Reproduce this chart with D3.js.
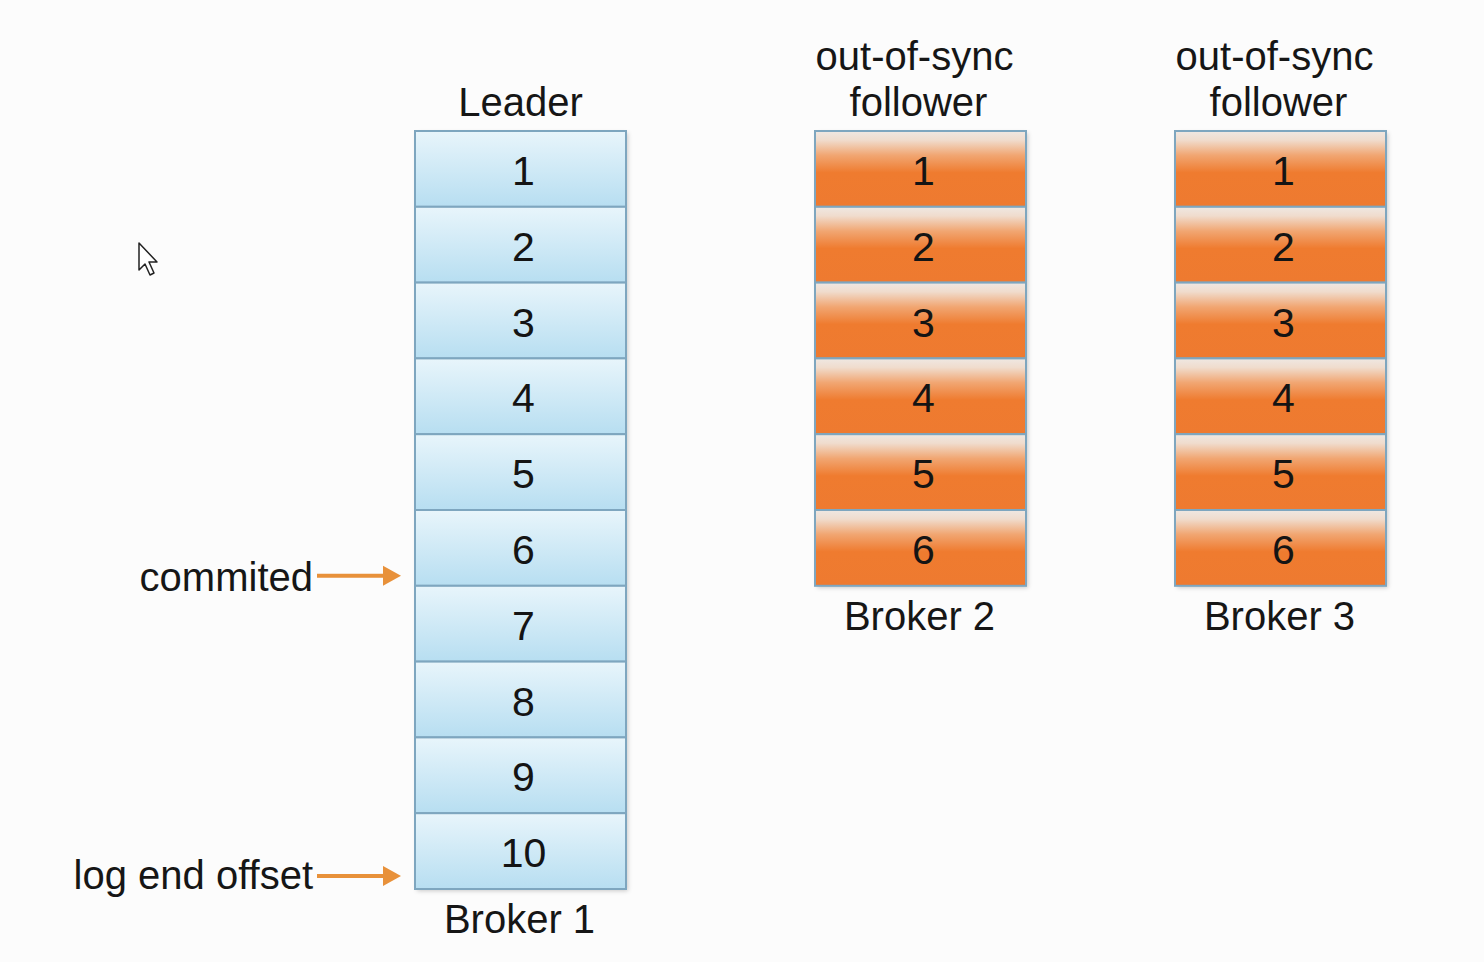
<!DOCTYPE html>
<html>
<head>
<meta charset="utf-8">
<script src="https://cdn.jsdelivr.net/npm/d3@7"></script>
<style>
  html, body { margin: 0; padding: 0; background: #fcfcfc; }
  svg { display: block; }
</style>
</head>
<body>
<script>
// offsets held by each broker's log
const brokers = ['Broker 1', 'Broker 2', 'Broker 3'];
const roles = [['Leader'], ['out-of-sync', 'follower'], ['out-of-sync', 'follower']];
const leaderOffsets = [1, 2, 3, 4, 5, 6, 7, 8, 9, 10];
const broker2Offsets = [1, 2, 3, 4, 5, 6];
const broker3Offsets = [1, 2, 3, 4, 5, 6];
const markers = [{label: 'commited', offset: 6}, {label: 'log end offset', offset: 10}];

const width = 1484, height = 962;
const font = '"Liberation Sans", Arial, Helvetica, sans-serif';

const svg = d3.select('body')
  .append('svg')
    .attr('width', width)
    .attr('height', height);

svg.append('rect')
  .attr('width', width)
  .attr('height', height)
  .attr('fill', '#fcfcfc');

// gradients
const defs = svg.append('defs');
const blue = defs.append('linearGradient').attr('id', 'blue')
  .attr('x1', 0).attr('y1', 0).attr('x2', 0).attr('y2', 1);
blue.append('stop').attr('offset', '0%').attr('stop-color', '#e8f5fb');
blue.append('stop').attr('offset', '100%').attr('stop-color', '#b7def1');

const orange = defs.append('linearGradient').attr('id', 'orange')
  .attr('x1', 0).attr('y1', 0).attr('x2', 0).attr('y2', 1);
orange.append('stop').attr('offset', '0%').attr('stop-color', '#efe8e3');
orange.append('stop').attr('offset', '12%').attr('stop-color', '#f0dccd');
orange.append('stop').attr('offset', '32%').attr('stop-color', '#f1a672');
orange.append('stop').attr('offset', '55%').attr('stop-color', '#ef7b2f');
orange.append('stop').attr('offset', '100%').attr('stop-color', '#ee7a30');

const shadow = defs.append('filter').attr('id', 'shadow')
  .attr('x', '-10%').attr('y', '-10%').attr('width', '130%').attr('height', '130%');
shadow.append('feDropShadow')
  .attr('dx', 2).attr('dy', 2).attr('stdDeviation', 2)
  .attr('flood-color', '#000').attr('flood-opacity', 0.2);

// scales
const x = d3.scaleOrdinal().domain(brokers).range([415, 815, 1175]);
const colW = 211;
const y = d3.scaleBand().domain(leaderOffsets).range([131, 889]).padding(0);

const logs = [
  {broker: brokers[0], offsets: leaderOffsets, fill: 'url(#blue)', role: roles[0]},
  {broker: brokers[1], offsets: broker2Offsets, fill: 'url(#orange)', role: roles[1]},
  {broker: brokers[2], offsets: broker3Offsets, fill: 'url(#orange)', role: roles[2]}
];

const cols = svg.selectAll('g.log')
  .data(logs)
  .join('g')
    .attr('class', 'log')
    .attr('transform', d => `translate(${x(d.broker)},0)`);

// column body with shadow
cols.append('rect')
  .attr('x', 0)
  .attr('y', d => y(d.offsets[0]))
  .attr('width', colW)
  .attr('height', d => y(d.offsets[d.offsets.length - 1]) + y.bandwidth() - y(d.offsets[0]))
  .attr('fill', '#fff')
  .attr('filter', 'url(#shadow)');

const cells = cols.selectAll('g.cell')
  .data(d => d.offsets.map(o => ({o, fill: d.fill})))
  .join('g')
    .attr('class', 'cell');

cells.append('rect')
  .attr('x', 0)
  .attr('y', d => y(d.o))
  .attr('width', colW)
  .attr('height', y.bandwidth())
  .attr('fill', d => d.fill)
  .attr('stroke', '#7ea6bf')
  .attr('stroke-width', 2);

cells.append('text')
  .attr('x', colW / 2 + 3)
  .attr('y', d => y(d.o) + y.bandwidth() / 2 + 16)
  .attr('text-anchor', 'middle')
  .attr('font-family', font)
  .attr('font-size', 41)
  .attr('fill', '#141414')
  .text(d => d.o);

// role labels above, broker name below
cols.each(function(d, idx) {
  const g = d3.select(this);
  const lines = d.role;
  const top = y(d.offsets[0]);
  lines.forEach((t, i) => {
    g.append('text')
      .attr('x', colW / 2 + (idx === 0 ? 0 : (i === 0 ? -6 : -2)))
      .attr('y', top - 15 - (lines.length - 1 - i) * 46)
      .attr('text-anchor', 'middle')
      .attr('font-family', font)
      .attr('font-size', 40)
      .attr('fill', '#161616')
      .text(t);
  });
  g.append('text')
    .attr('x', colW / 2 - 1)
    .attr('y', y(d.offsets[d.offsets.length - 1]) + y.bandwidth() + 44)
    .attr('text-anchor', 'middle')
    .attr('font-family', font)
    .attr('font-size', 40)
    .attr('fill', '#161616')
    .text(d.broker);
});

// arrows for commit / log end offset
const leaderX = x(brokers[0]);
const m = svg.selectAll('g.marker')
  .data(markers)
  .join('g')
    .attr('class', 'marker')
    .attr('transform', d => `translate(0,${d.offset === 10 ? y(d.offset) + y.bandwidth() / 2 + 25 : y(d.offset) + y.bandwidth() - 10})`);

m.append('line')
  .attr('x1', leaderX - 98)
  .attr('x2', leaderX - 26)
  .attr('y1', 0)
  .attr('y2', 0)
  .attr('stroke', '#e8913a')
  .attr('stroke-width', 4);

m.append('path')
  .attr('d', `M${leaderX - 32},-10 L${leaderX - 14},0 L${leaderX - 32},10 Z`)
  .attr('fill', '#e8913a');

m.append('text')
  .attr('x', leaderX - 102)
  .attr('y', d => d.offset === 10 ? 13 : 15)
  .attr('text-anchor', 'end')
  .attr('font-family', font)
  .attr('font-size', 40)
  .attr('fill', '#161616')
  .text(d => d.label);

// mouse pointer left in the screenshot
svg.append('path')
  .attr('transform', 'translate(139,243)')
  .attr('d', 'M0,0 L0,27 L6,21 L11,32 L15,30 L10,19 L18,19 Z')
  .attr('fill', '#fff')
  .attr('stroke', '#222')
  .attr('stroke-width', 1.5)
  .attr('stroke-linejoin', 'round');
</script>
</body>
</html>
